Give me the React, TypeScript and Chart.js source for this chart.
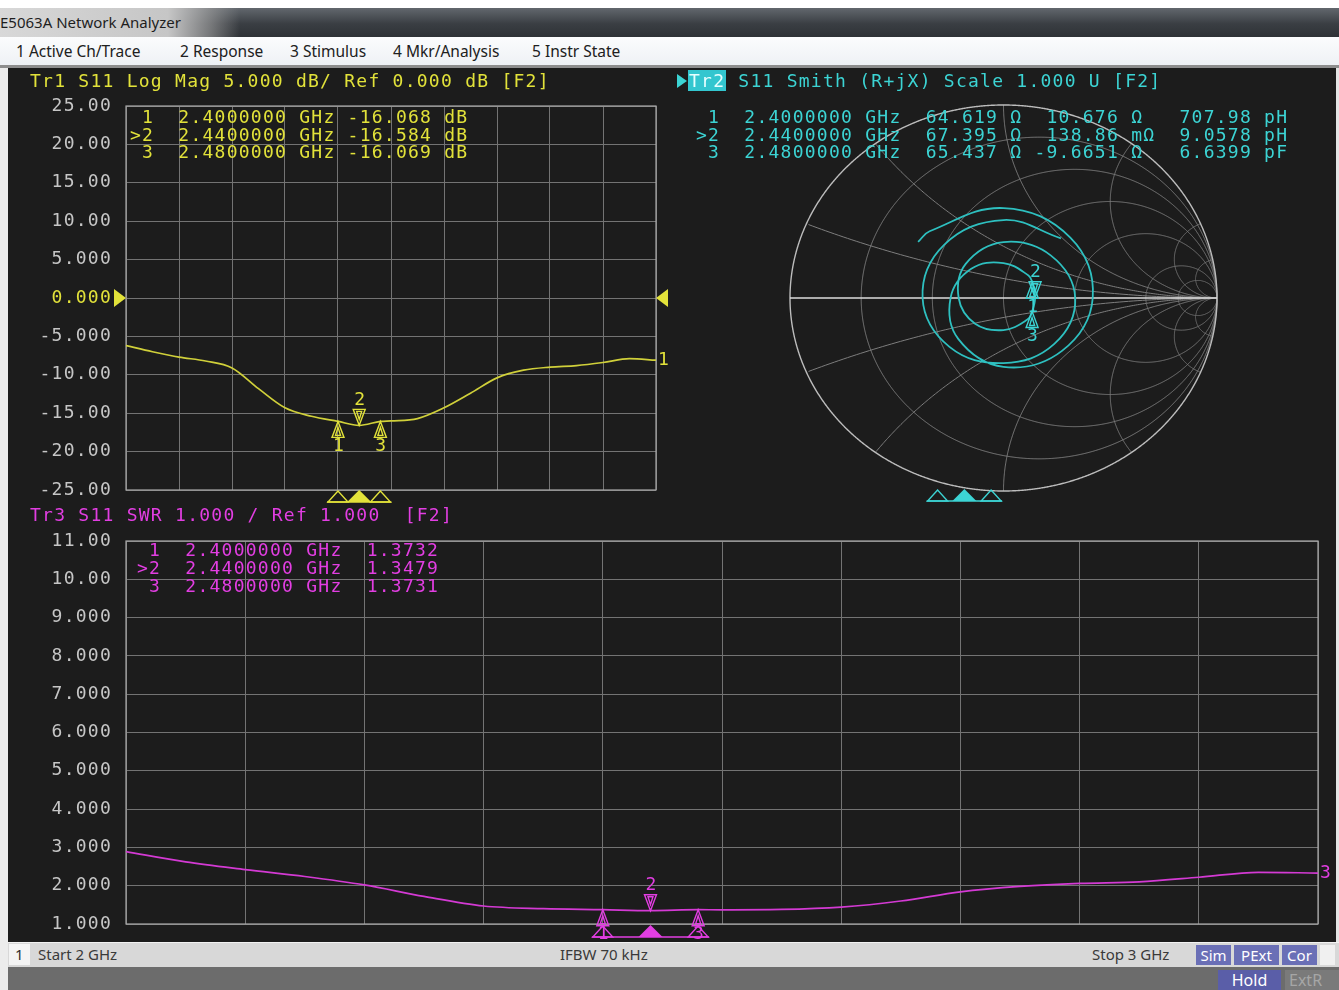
import React, { useEffect, useRef } from "react";
import { Chart, registerables } from "chart.js";

Chart.register(...registerables);

// ---------------- data ----------------
const freqGHz = [2.0, 2.05, 2.1, 2.15, 2.2, 2.25, 2.3, 2.35, 2.4, 2.44, 2.48, 2.5, 2.55, 2.6, 2.65, 2.7, 2.75, 2.8, 2.85, 2.9, 2.95, 3.0];
const logMagDb = [-6.2, -7.0, -7.7, -8.2, -9.1, -11.8, -14.3, -15.4, -16.068, -16.584, -16.069, -16.0, -15.7, -14.3, -12.4, -10.4, -9.4, -9.0, -8.8, -8.4, -7.9, -8.1];
const swrValues = [2.89, 2.62, 2.42, 2.24, 2.02, 1.72, 1.47, 1.4, 1.3732, 1.3479, 1.3731, 1.37, 1.38, 1.44, 1.6, 1.84, 1.98, 2.06, 2.1, 2.22, 2.35, 2.33];

const markerNames = ["1", "2", "3"];
const markerFreqGHz = [2.4, 2.44, 2.48];
const markerLogMagDb = [-16.068, -16.584, -16.069];
const markerSwr = [1.3732, 1.3479, 1.3731];
const markerGammaRe = [0.135, 0.148, 0.134];
const markerGammaIm = [0.081, 0.001, -0.07];
const activeMarker = 1;

// reflection coefficient trace on the Smith chart (real / imaginary part)
const smithGammaRe = [-0.4, -0.346, 0, 0.313, 0.418, 0.274, 0, -0.212, -0.248, -0.151, 0, 0.117, 0.135, 0.148, 0.134, 0.112, 0, -0.133, -0.21, -0.177, 0, 0.221, 0.336, 0.238, 0, -0.253, -0.379, -0.277, 0, 0.269];
const smithGammaIm = [0.291, 0.346, 0.466, 0.313, 0, -0.274, -0.357, -0.212, 0, 0.151, 0.181, 0.117, 0.081, 0.001, -0.07, -0.112, -0.166, -0.133, 0, 0.177, 0.29, 0.221, 0, -0.238, -0.337, -0.253, 0, 0.277, 0.404, 0.309];
const smithResistance = [0.2, 0.5, 1, 2, 5, 10];
const smithReactance = [0.2, 0.5, 1, 2, 5, 10];

const freqStart = 2;
const freqStop = 3;
const freqStep = 0.1;
const logMagMin = -25;
const logMagMax = 25;
const logMagStep = 5;
const logMagRef = 0;
const swrMin = 1;
const swrMax = 11;
const swrStep = 1;
const swrRef = 1;

const logMagTitle = "Tr1 S11 Log Mag 5.000 dB/ Ref 0.000 dB [F2]";
const smithTitle = " S11 Smith (R+jX) Scale 1.000 U [F2]";
const swrTitle = "Tr3 S11 SWR 1.000 / Ref 1.000  [F2]";
const logMagReadout = [" 1  2.4000000 GHz -16.068 dB", ">2  2.4400000 GHz -16.584 dB", " 3  2.4800000 GHz -16.069 dB"];
const smithReadout = [
  " 1  2.4000000 GHz  64.619 Ω  10.676 Ω   707.98 pH",
  ">2  2.4400000 GHz  67.395 Ω  138.86 mΩ  9.0578 pH",
  " 3  2.4800000 GHz  65.437 Ω -9.6651 Ω   6.6399 pF",
];
const swrReadout = [" 1  2.4000000 GHz  1.3732", ">2  2.4400000 GHz  1.3479", " 3  2.4800000 GHz  1.3731"];
const menuItems = ["1 Active Ch/Trace", "2 Response", "3 Stimulus", "4 Mkr/Analysis", "5 Instr State"];

// ---------------- styles ----------------
const MONO = "'DejaVu Sans Mono', 'Liberation Mono', monospace";
const FS = 18;
const LS = "1.25px";
const BG = "#1c1c1c";
const GRID = "#737373";
const FRAME = "#a8a8a8";
const TICK = "#c6c6c6";
const YELLOW = "#e2e23a";
const YELLOW_TRACE = "#d0d03a";
const CYAN = "#3cd4d4";
const CYAN_TRACE = "#2ec0c0";
const MAGENTA = "#e23ee2";
const MAGENTA_TRACE = "#d43ad4";
const UI = "'Noto Sans', 'Open Sans', sans-serif";

function fmtTick(v: any) {
  const n = Number(v);
  return Math.abs(n) >= 10 ? n.toFixed(2) : n.toFixed(3);
}

function tri(ctx: CanvasRenderingContext2D, px: number, py: number, dir: number, w: number, h: number, filled: boolean, color: string) {
  ctx.beginPath();
  ctx.moveTo(px, py);
  ctx.lineTo(px - w / 2, py + dir * h);
  ctx.lineTo(px + w / 2, py + dir * h);
  ctx.closePath();
  if (filled) {
    ctx.fillStyle = color;
    ctx.fill();
  } else {
    ctx.strokeStyle = color;
    ctx.lineWidth = 1.4;
    ctx.stroke();
  }
}

function traceMarker(ctx: CanvasRenderingContext2D, px: number, py: number, i: number, color: string) {
  const active = i === activeMarker;
  const dir = active ? -1 : 1;
  tri(ctx, px, py, dir, 12, 16, false, color);
  tri(ctx, px, py + dir * 6, dir, 5, 8, false, color);
  ctx.fillStyle = color;
  ctx.font = `${FS}px ${MONO}`;
  ctx.textAlign = "center";
  ctx.textBaseline = "middle";
  ctx.fillText(markerNames[i], px + 1, py + dir * 25);
}

function indicatorRow(ctx: CanvasRenderingContext2D, xs: number[], base: number, color: string) {
  ctx.strokeStyle = color;
  ctx.lineWidth = 1.4;
  ctx.beginPath();
  ctx.moveTo(xs[0] - 11, base);
  ctx.lineTo(xs[xs.length - 1] + 11, base);
  ctx.stroke();
  xs.forEach((px, i) => {
    if (i === activeMarker) tri(ctx, px, base - 12, 1, 24, 12, true, color);
    else tri(ctx, px, base - 11, 1, 20, 11, false, color);
  });
}

type RectOpts = {
  id: string;
  ys: number[];
  min: number;
  max: number;
  step: number;
  ref: number;
  color: string;
  traceColor: string;
  markerValues: number[];
  traceLabel: string;
  padding: { left: number; right: number; top: number; bottom: number };
  indicatorGap: number;
};

function rectConfig(o: RectOpts): any {
  const plugin = {
    id: o.id,
    beforeDraw(chart: any) {
      chart.ctx.letterSpacing = LS;
    },
    beforeDatasetsDraw(chart: any) {
      const { ctx, chartArea: a } = chart;
      ctx.save();
      ctx.strokeStyle = FRAME;
      ctx.lineWidth = 1.2;
      ctx.strokeRect(a.left, a.top, a.right - a.left, a.bottom - a.top);
      ctx.restore();
    },
    afterDatasetsDraw(chart: any) {
      const { ctx, chartArea: a, scales } = chart;
      const xs = scales.x;
      const ys = scales.y;
      ctx.save();
      ctx.letterSpacing = LS;
      // reference level arrows
      const y0 = ys.getPixelForValue(o.ref);
      ctx.fillStyle = o.color;
      ctx.beginPath();
      ctx.moveTo(a.left - 12, y0 - 9);
      ctx.lineTo(a.left, y0);
      ctx.lineTo(a.left - 12, y0 + 9);
      ctx.closePath();
      ctx.fill();
      ctx.beginPath();
      ctx.moveTo(a.right + 12, y0 - 9);
      ctx.lineTo(a.right, y0);
      ctx.lineTo(a.right + 12, y0 + 9);
      ctx.closePath();
      ctx.fill();
      // trace number at the end of the trace
      ctx.font = `${FS}px ${MONO}`;
      ctx.textAlign = "left";
      ctx.textBaseline = "middle";
      ctx.fillStyle = o.color;
      ctx.fillText(o.traceLabel, a.right + 2, ys.getPixelForValue(o.ys[o.ys.length - 1]));
      // markers
      const mx = markerFreqGHz.map((f) => xs.getPixelForValue(f));
      markerFreqGHz.forEach((f, i) => {
        traceMarker(ctx, mx[i], ys.getPixelForValue(o.markerValues[i]), i, o.color);
      });
      indicatorRow(ctx, mx, a.bottom + o.indicatorGap, o.color);
      ctx.restore();
    },
  };
  return {
    type: "line",
    data: {
      datasets: [
        {
          data: freqGHz.map((f, i) => ({ x: f, y: o.ys[i] })),
          borderColor: o.traceColor,
          borderWidth: 1.7,
          pointRadius: 0,
          cubicInterpolationMode: "monotone",
          fill: false,
        },
      ],
    },
    options: {
      animation: false,
      responsive: false,
      events: [],
      layout: { padding: o.padding },
      plugins: { legend: { display: false }, tooltip: { enabled: false }, title: { display: false } },
      scales: {
        x: {
          type: "linear",
          min: freqStart,
          max: freqStop,
          ticks: { display: false, stepSize: freqStep },
          grid: { color: GRID, lineWidth: 1, drawTicks: false },
          border: { display: false },
          afterFit: (s: any) => {
            s.height = 0;
          },
        },
        y: {
          type: "linear",
          min: o.min,
          max: o.max,
          ticks: {
            stepSize: o.step,
            padding: 0,
            font: { family: MONO, size: FS },
            color: (c: any) => (c.tick && Math.abs(c.tick.value - o.ref) < 1e-9 ? o.color : TICK),
            callback: (v: any) => fmtTick(v),
          },
          grid: { color: GRID, lineWidth: 1, drawTicks: true, tickLength: 14, tickColor: "rgba(0,0,0,0)" },
          border: { display: false },
          afterFit: (s: any) => {
            s.width = 118;
          },
        },
      },
    },
    plugins: [plugin],
  };
}

function smithConfig(): any {
  const plugin = {
    id: "smithDeco",
    beforeDatasetsDraw(chart: any) {
      const { ctx, scales } = chart;
      const X = (u: number) => scales.x.getPixelForValue(u);
      const Y = (v: number) => scales.y.getPixelForValue(v);
      const circle = (cx: number, cy: number, rad: number, clip: boolean) => {
        ctx.beginPath();
        let pen = false;
        const N = 1440;
        for (let k = 0; k <= N; k++) {
          const t = (k / N) * Math.PI * 2;
          const u = cx + rad * Math.cos(t);
          const v = cy + rad * Math.sin(t);
          const inside = !clip || u * u + v * v <= 1.0001;
          if (inside) {
            if (pen) ctx.lineTo(X(u), Y(v));
            else {
              ctx.moveTo(X(u), Y(v));
              pen = true;
            }
          } else pen = false;
        }
        ctx.stroke();
      };
      ctx.save();
      ctx.strokeStyle = "#7e7e7e";
      ctx.lineWidth = 1;
      smithResistance.forEach((r) => circle(r / (1 + r), 0, 1 / (1 + r), false));
      smithReactance.forEach((xv) => {
        circle(1, 1 / xv, 1 / xv, true);
        circle(1, -1 / xv, 1 / xv, true);
      });
      ctx.strokeStyle = "#bcbcbc";
      ctx.lineWidth = 1.4;
      circle(0, 0, 1, false);
      ctx.strokeStyle = "#dcdcdc";
      ctx.lineWidth = 1.5;
      ctx.beginPath();
      ctx.moveTo(X(-1), Y(0));
      ctx.lineTo(X(1), Y(0));
      ctx.stroke();
      ctx.restore();
    },
    afterDatasetsDraw(chart: any) {
      const { ctx, scales, chartArea: a } = chart;
      ctx.save();
      ctx.letterSpacing = LS;
      markerGammaRe.forEach((u, i) => {
        traceMarker(ctx, scales.x.getPixelForValue(u), scales.y.getPixelForValue(markerGammaIm[i]), i, CYAN);
      });
      const mx = markerFreqGHz.map((f) => ((f - freqStart) / (freqStop - freqStart)) * chart.width);
      indicatorRow(ctx, mx, a.bottom + 10, CYAN);
      ctx.restore();
    },
  };
  return {
    type: "scatter",
    data: {
      datasets: [
        {
          data: smithGammaRe.map((u, i) => ({ x: u, y: smithGammaIm[i] })),
          showLine: true,
          tension: 0.4,
          borderColor: CYAN_TRACE,
          borderWidth: 1.8,
          pointRadius: 0,
          fill: false,
        },
      ],
    },
    options: {
      animation: false,
      responsive: false,
      events: [],
      layout: { padding: { left: 120, right: 122, top: 37, bottom: 19 } },
      plugins: { legend: { display: false }, tooltip: { enabled: false } },
      scales: {
        x: { type: "linear", min: -1, max: 1, display: false },
        y: { type: "linear", min: -1, max: 1, display: false },
      },
    },
    plugins: [plugin],
  };
}

function Mono(props: { x: number; y: number; color: string; lh?: number; children: React.ReactNode }) {
  return (
    <div
      style={{
        position: "absolute",
        left: props.x,
        top: props.y,
        color: props.color,
        fontFamily: MONO,
        fontSize: FS,
        letterSpacing: LS,
        lineHeight: `${props.lh ?? 18}px`,
        whiteSpace: "pre",
      }}
    >
      {props.children}
    </div>
  );
}

function Abs(props: { x: number; y: number; w: number; h: number; bg: string; style?: any; children?: React.ReactNode }) {
  return (
    <div
      style={{
        position: "absolute",
        left: props.x,
        top: props.y,
        width: props.w,
        height: props.h,
        background: props.bg,
        ...(props.style || {}),
      }}
    >
      {props.children}
    </div>
  );
}

const uiText = (size: number, color: string): any => ({
  fontFamily: UI,
  fontSize: size,
  color,
  whiteSpace: "pre",
  position: "absolute",
});

export default function App() {
  const logRef = useRef<HTMLCanvasElement>(null);
  const smithRef = useRef<HTMLCanvasElement>(null);
  const swrRef = useRef<HTMLCanvasElement>(null);

  useEffect(() => {
    const charts: Chart[] = [];
    if (logRef.current)
      charts.push(
        new Chart(
          logRef.current,
          rectConfig({
            id: "logmag",
            ys: logMagDb,
            min: logMagMin,
            max: logMagMax,
            step: logMagStep,
            ref: logMagRef,
            color: YELLOW,
            traceColor: YELLOW_TRACE,
            markerValues: markerLogMagDb,
            traceLabel: "1",
            padding: { left: 0, right: 14, top: 38, bottom: 20 },
            indicatorGap: 12,
          })
        )
      );
    if (smithRef.current) charts.push(new Chart(smithRef.current, smithConfig()));
    if (swrRef.current)
      charts.push(
        new Chart(
          swrRef.current,
          rectConfig({
            id: "swr",
            ys: swrValues,
            min: swrMin,
            max: swrMax,
            step: swrStep,
            ref: swrRef,
            color: MAGENTA,
            traceColor: MAGENTA_TRACE,
            markerValues: markerSwr,
            traceLabel: "3",
            padding: { left: 0, right: 21, top: 11, bottom: 18 },
            indicatorGap: 13,
          })
        )
      );
    return () => charts.forEach((c) => c.destroy());
  }, []);

  const menuX = [16, 180, 290, 393, 532];

  return (
    <div style={{ position: "absolute", left: 0, top: 0, width: 1339, height: 990, background: "#ffffff", overflow: "hidden" }}>
      {/* title bar */}
      <Abs x={0} y={8} w={1339} h={29} bg="linear-gradient(to bottom, #62676d, #3a3e43 55%, #2e3236)" />
      <Abs x={0} y={8} w={240} h={29} bg="linear-gradient(to right, #d8d8d8 0%, #c6c6c6 70%, rgba(160,160,160,0.6) 88%, rgba(120,120,120,0) 100%)" />
      <div style={{ ...uiText(15, "#1e1e1e"), left: 0, top: 12, lineHeight: "20px" }}>E5063A Network Analyzer</div>

      {/* menu bar */}
      <Abs x={0} y={37} w={1339} h={29} bg="linear-gradient(to bottom, #fbfcfd, #eef1f5)" />
      {menuItems.map((m, i) => (
        <div key={m} style={{ ...uiText(15.5, "#202020"), left: menuX[i], top: 40, lineHeight: "22px" }}>
          {m}
        </div>
      ))}
      <Abs x={0} y={65} w={1339} h={3} bg="#8e8e8e" />

      {/* left / right light strips */}
      <Abs x={0} y={68} w={8} h={922} bg="#ececec" />
      <Abs x={1336} y={68} w={3} h={874} bg="#e4e4e4" />

      {/* instrument panel */}
      <Abs x={8} y={68} w={1328} h={874} bg={BG} />

      <canvas ref={logRef} width={662} height={442} style={{ position: "absolute", left: 8, top: 68, width: 662, height: 442 }} />
      <canvas ref={smithRef} width={669} height={442} style={{ position: "absolute", left: 670, top: 68, width: 669, height: 442 }} />
      <canvas ref={swrRef} width={1331} height={412} style={{ position: "absolute", left: 8, top: 530, width: 1331, height: 412 }} />

      {/* trace headers and marker readouts */}
      <Mono x={30} y={72} color={YELLOW}>
        {logMagTitle}
      </Mono>
      <Mono x={130} y={108} color={YELLOW} lh={17.5}>
        {logMagReadout.join("\n")}
      </Mono>

      <div
        style={{
          position: "absolute",
          left: 677,
          top: 74,
          width: 0,
          height: 0,
          borderTop: "7px solid transparent",
          borderBottom: "7px solid transparent",
          borderLeft: `10px solid ${CYAN}`,
        }}
      />
      <Mono x={688} y={72} color={CYAN}>
        <span style={{ background: "#33c6cf", color: "#e6ffff", padding: "0 1px" }}>Tr2</span>
        {smithTitle}
      </Mono>
      <Mono x={696} y={108} color={CYAN} lh={17.5}>
        {smithReadout.join("\n")}
      </Mono>

      <Mono x={30} y={506} color={MAGENTA}>
        {swrTitle}
      </Mono>
      <Mono x={137} y={541} color={MAGENTA} lh={18}>
        {swrReadout.join("\n")}
      </Mono>

      {/* status bar */}
      <Abs x={8} y={942} w={1331} h={25} bg="#d8d8d8" style={{ borderTop: "1px solid #f2f2f2", boxSizing: "border-box" }} />
      <Abs x={9} y={944} w={21} h={21} bg="#f4f4f4" />
      <div style={{ ...uiText(15, "#303030"), left: 15, top: 944, lineHeight: "21px" }}>1</div>
      <div style={{ ...uiText(15, "#3a3a3a"), left: 38, top: 944, lineHeight: "21px" }}>Start 2 GHz</div>
      <div style={{ ...uiText(15, "#3a3a3a"), left: 560, top: 944, lineHeight: "21px" }}>IFBW 70 kHz</div>
      <div style={{ ...uiText(15, "#3a3a3a"), left: 1092, top: 944, lineHeight: "21px" }}>Stop 3 GHz</div>
      {[
        { t: "Sim", x: 1196, w: 35 },
        { t: "PExt", x: 1234, w: 45 },
        { t: "Cor", x: 1282, w: 35 },
      ].map((b) => (
        <Abs key={b.t} x={b.x} y={945} w={b.w} h={20} bg="#6a6fb6">
          <div style={{ ...uiText(15, "#ffffff"), left: 0, top: 0, width: b.w, textAlign: "center", lineHeight: "20px" }}>{b.t}</div>
        </Abs>
      ))}
      <Abs x={1320} y={945} w={15} h={20} bg="#f0f0f0" />

      {/* bottom bar */}
      <Abs x={8} y={967} w={1331} h={23} bg="#6c6c6c" />
      <Abs x={1218} y={970} w={63} h={20} bg="#5a5ea8">
        <div style={{ ...uiText(16, "#ffffff"), left: 0, top: 0, width: 63, textAlign: "center", lineHeight: "21px" }}>Hold</div>
      </Abs>
      <Abs x={1285} y={970} w={54} h={20} bg="#7a7a7a">
        <div style={{ ...uiText(16, "#a6a6a6"), left: 4, top: 0, lineHeight: "21px" }}>ExtR</div>
      </Abs>
    </div>
  );
}
